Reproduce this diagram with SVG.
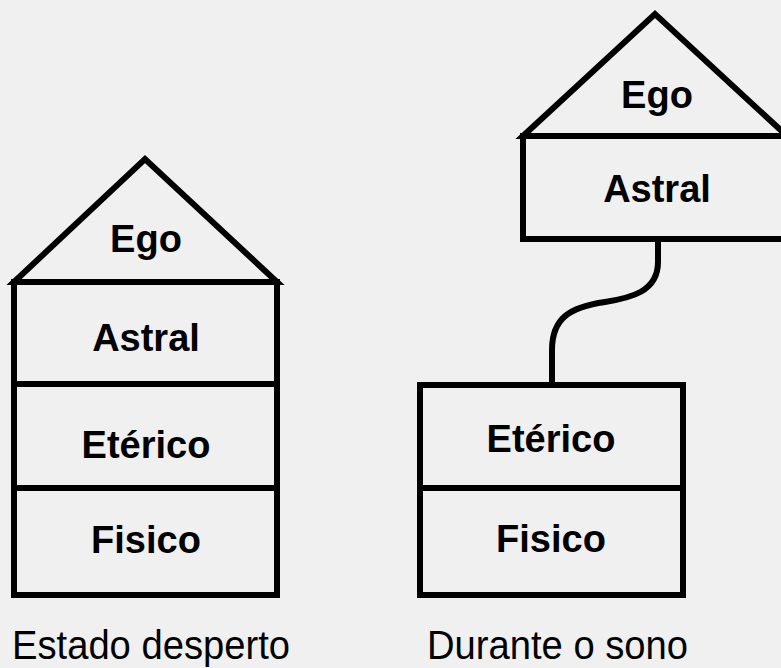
<svg xmlns="http://www.w3.org/2000/svg" width="781" height="668" viewBox="0 0 781 668">
<style>
.s{fill:none;stroke:#000;stroke-width:6;stroke-linejoin:miter}
.b{font-family:"Liberation Sans",Arial,sans-serif;font-weight:bold;font-size:38px;fill:#000;text-anchor:middle}
.l{font-family:"Liberation Sans",Arial,sans-serif;font-size:40px;fill:#000}
</style>
<rect x="0" y="0" width="781" height="668" fill="#f0f0f0"/>
<g id="awake">
<polygon class="s" points="14,282 145,159 277,282"/>
<rect class="s" x="14" y="282" width="263" height="313"/>
<line class="s" x1="14" y1="384" x2="277" y2="384"/>
<line class="s" x1="14" y1="488" x2="277" y2="488"/>
<text class="b" x="146" y="252">Ego</text>
<text class="b" x="146" y="351">Astral</text>
<text class="b" x="146" y="458">Etérico</text>
<text class="b" x="146" y="553">Fisico</text>
</g>
<g id="sleep-upper">
<polygon class="s" points="523,136 655,14 787,136"/>
<rect class="s" x="523" y="136" width="264" height="103"/>
<text class="b" x="657" y="108">Ego</text>
<text class="b" x="657" y="202">Astral</text>
</g>
<g id="connectors">
<path class="s" d="M658,239 V262 C658,292 630,298 605,302 C570,307 552,318 552,350 V385"/>
</g>
<g id="sleep-lower">
<rect class="s" x="420" y="385" width="263" height="210"/>
<line class="s" x1="420" y1="488" x2="683" y2="488"/>
<text class="b" x="551" y="452">Etérico</text>
<text class="b" x="551" y="552">Fisico</text>
</g>
<g id="labels">
<text class="l" x="12" y="659" textLength="278" lengthAdjust="spacingAndGlyphs">Estado desperto</text>
<text class="l" x="427" y="659" textLength="261" lengthAdjust="spacingAndGlyphs">Durante o sono</text>
</g>
</svg>
